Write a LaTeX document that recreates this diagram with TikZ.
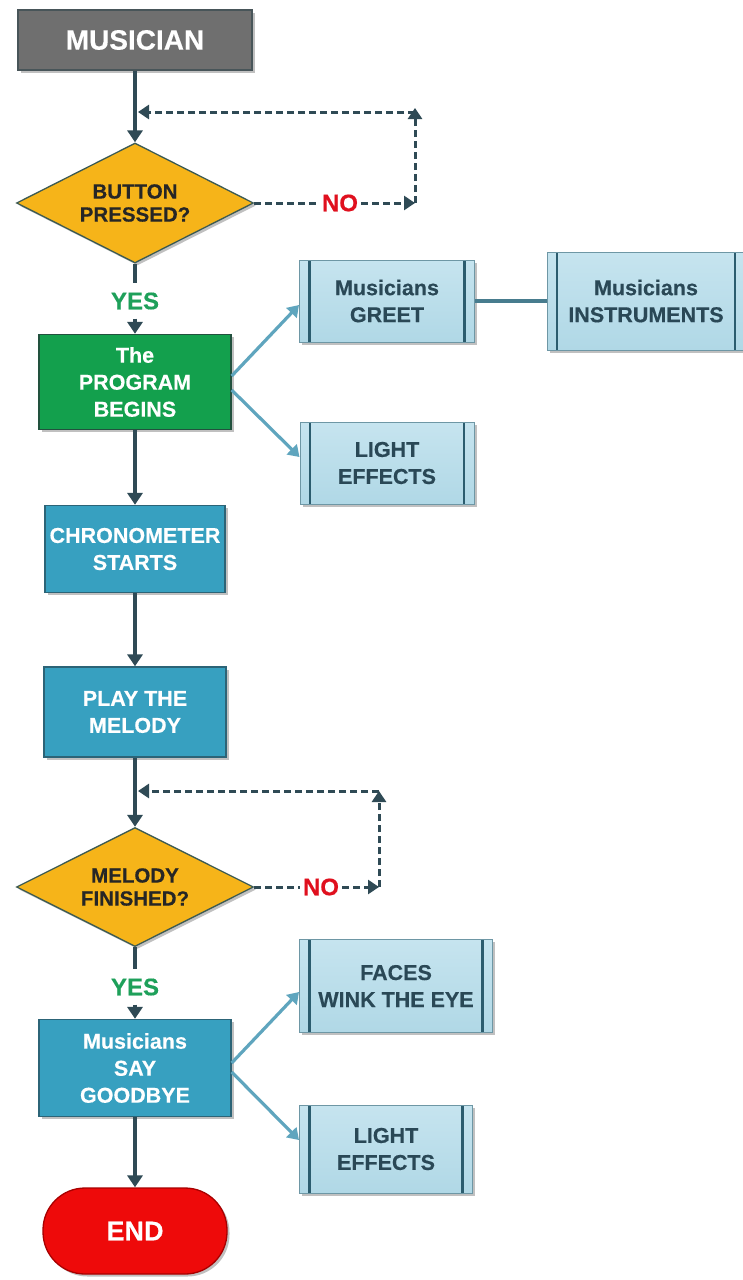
\documentclass[tikz,border=0pt]{standalone}
\usepackage{fontspec}
\setmainfont{Liberation Sans}[BoldFeatures={FakeBold=0.4}]
\usetikzlibrary{shapes.geometric,arrows.meta,shadows}
\definecolor{grayfill}{HTML}{6F6F6F}
\definecolor{grayline}{HTML}{485559}
\definecolor{gold}{HTML}{F6B419}
\definecolor{goldline}{HTML}{3C5A52}
\definecolor{greenfill}{HTML}{13A04D}
\definecolor{greenline}{HTML}{22513E}
\definecolor{bluefill}{HTML}{37A0C0}
\definecolor{blueline}{HTML}{2C6477}
\definecolor{lightfill}{HTML}{B0D8E6}
\definecolor{lighttop}{HTML}{C6E4EF}
\definecolor{lightline}{HTML}{6E97A5}
\definecolor{barcol}{HTML}{2B5C6E}
\definecolor{mainline}{HTML}{2F4A55}
\definecolor{lightarrow}{HTML}{5FA5BE}
\definecolor{endred}{HTML}{EE0A0A}
\definecolor{endline}{HTML}{A80000}
\definecolor{yesgreen}{HTML}{1EA05A}
\definecolor{nored}{HTML}{E0101E}
\definecolor{darktext}{HTML}{2A4856}
\begin{document}
\begin{tikzpicture}[x=1pt,y=-1pt,
  boxfont/.style={font=\fontsize{21.5}{27}\selectfont\bfseries},
  shadowed/.style={drop shadow={shadow xshift=2.5pt,shadow yshift=-2.5pt,opacity=0.35,fill=black!70}},
  stepbox/.style={shadowed,boxfont,draw=blueline,line width=1.3pt,fill=bluefill,text=white,align=center,inner sep=0pt},
  startbox/.style={shadowed,draw=grayline,line width=1.3pt,fill=grayfill,text=white,font=\fontsize{28}{32}\selectfont\bfseries,inner sep=0pt},
  greenbox/.style={stepbox,fill=greenfill,draw=greenline},
  decision/.style={shape=diamond,shadowed,draw=goldline,line width=1.3pt,fill=gold,text=black!85,align=center,inner sep=0pt,aspect=2,font=\fontsize{20.5}{23}\selectfont\bfseries},
  subbox/.style={shadowed,boxfont,draw=lightline,line width=1pt,top color=lighttop,bottom color=lightfill,text=darktext,align=center,inner sep=0pt,
    path picture={
      \draw[barcol,line width=2.6pt]
        ([xshift=10pt]path picture bounding box.north west) -- ([xshift=10pt]path picture bounding box.south west)
        ([xshift=-10pt]path picture bounding box.north east) -- ([xshift=-10pt]path picture bounding box.south east);}},
  endbox/.style={shadowed,draw=endline,line width=1.3pt,fill=endred,text=white,font=\fontsize{27}{30}\selectfont\bfseries,rounded corners=42pt,inner sep=0pt},
  flow/.style={draw=mainline,line width=3.5pt,-{Triangle[width=15pt,length=12pt]}},
  plainflow/.style={draw=mainline,line width=3.5pt},
  loopline/.style={draw=mainline,line width=3pt,dash pattern=on 7pt off 4pt},
  loopflow/.style={loopline,-{Triangle[width=14pt,length=11pt]}},
  sideflow/.style={draw=lightarrow,line width=3.2pt,-{Triangle[width=14pt,length=11pt]}},
  sideline/.style={draw=lightarrow!75!black,line width=3.5pt},
  yeslabel/.style={text=yesgreen,font=\fontsize{24}{26}\selectfont\bfseries,inner xsep=0pt,inner ysep=9pt},
  nolabel/.style={text=nored,font=\fontsize{24}{26}\selectfont\bfseries,inner xsep=3pt,inner ysep=0pt}
]
\path[use as bounding box,fill=white] (0,0) rectangle (743,1280);

% main column
\node[startbox,minimum width=234pt,minimum height=60pt] (mus) at (135,40) {MUSICIAN};
\node[decision,minimum width=237pt,minimum height=120pt] (d1) at (135,203) {BUTTON\\PRESSED?};
\node[yeslabel] (yes1) at (135,301) {YES};
\node[greenbox,minimum width=192pt,minimum height=95pt] (prog) at (135,382) {The\\PROGRAM\\BEGINS};
\node[stepbox,minimum width=180pt,minimum height=87pt] (chrono) at (135,549) {CHRONOMETER\\STARTS};
\node[stepbox,minimum width=182pt,minimum height=90pt] (play) at (135,712) {PLAY THE\\MELODY};
\node[decision,minimum width=237pt,minimum height=119pt] (d2) at (135,887) {MELODY\\FINISHED?};
\node[yeslabel] (yes2) at (135,987) {YES};
\node[stepbox,minimum width=192pt,minimum height=97pt] (bye) at (135,1068) {Musicians\\SAY\\GOODBYE};
\node[endbox,minimum width=184pt,minimum height=86pt] (end) at (135,1231) {END};

% side boxes
\node[subbox,minimum width=175pt,minimum height=82pt] (greet) at (387,301) {Musicians\\GREET};
\node[subbox,minimum width=198pt,minimum height=98pt] (instr) at (646,301) {Musicians\\INSTRUMENTS};
\node[subbox,minimum width=174pt,minimum height=82pt] (light1) at (387,463) {LIGHT\\EFFECTS};
\node[subbox,minimum width=193pt,minimum height=93pt] (faces) at (396,986) {FACES\\WINK THE EYE};
\node[subbox,minimum width=173pt,minimum height=88pt] (light2) at (386,1149) {LIGHT\\EFFECTS};

% loop labels and corners
\node[nolabel] (no1) at (340,203) {NO};
\node[nolabel] (no2) at (321,887) {NO};
\coordinate (c1) at (415,203);
\coordinate (c2) at (415,108);
\coordinate (j1) at (138,112);
\coordinate (c3) at (379,887);
\coordinate (c4) at (379,791);
\coordinate (j2) at (138,791);

% main connectors
\draw[flow] (mus.south) -- (d1.north);
\draw[plainflow] (d1.south) -- (yes1.north);
\draw[flow] (yes1.south) -- (prog.north);
\draw[flow] (prog.south) -- (chrono.north);
\draw[flow] (chrono.south) -- (play.north);
\draw[flow] (play.south) -- (d2.north);
\draw[plainflow] (d2.south) -- (yes2.north);
\draw[flow] (yes2.south) -- (bye.north);
\draw[flow] (bye.south) -- (end.north);

% NO loops
\draw[loopline] (d1.east) -- (no1.west);
\draw[loopflow] (no1.east) -- (c1);
\draw[loopflow] (c1) -- (c2);
\draw[loopflow] (c2 |- j1) -- (j1);
\draw[loopline] (d2.east) -- (no2.west);
\draw[loopflow] (no2.east) -- (c3);
\draw[loopflow] (c3) -- (c4);
\draw[loopflow] (c4 |- j2) -- (j2);

% side connectors
\draw[sideflow] ([yshift=6pt]prog.east) -- ([yshift=-4pt]greet.west);
\draw[sideflow] ([yshift=-8pt]prog.east) -- ([yshift=6pt]light1.west);
\draw[sideline] (greet.east) -- (instr.west);
\draw[sideflow] ([yshift=5pt]bye.east) -- ([yshift=-6pt]faces.west);
\draw[sideflow] ([yshift=-4pt]bye.east) -- ([yshift=9pt]light2.west);
\end{tikzpicture}
\end{document}
